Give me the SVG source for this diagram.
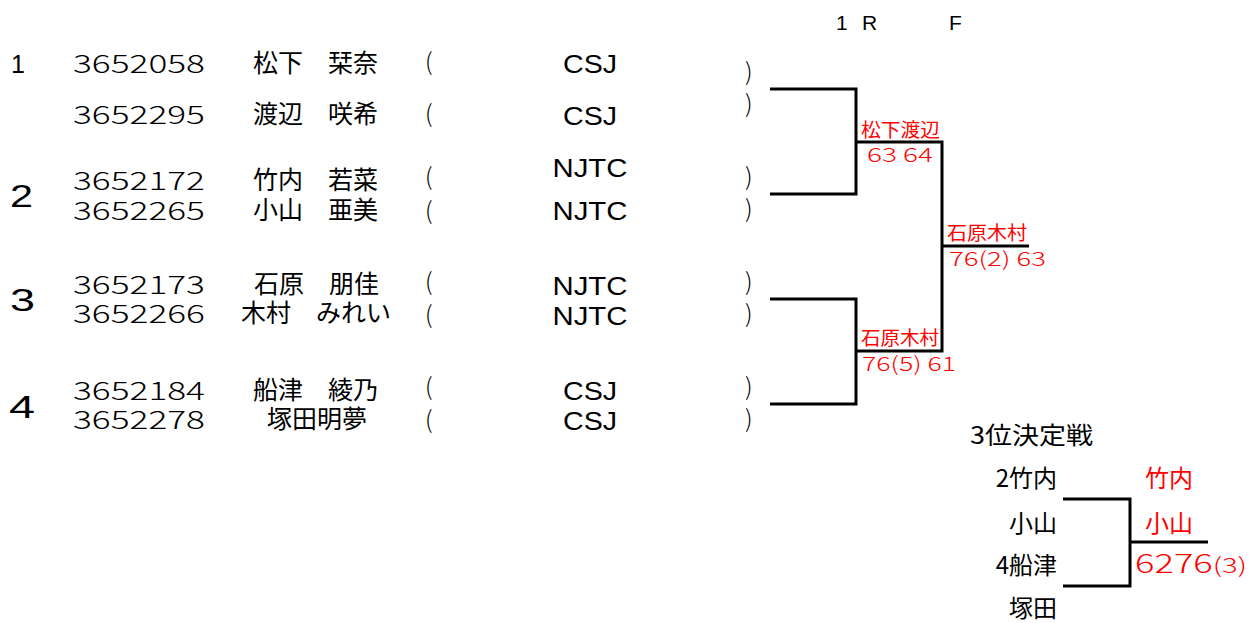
<svg xmlns="http://www.w3.org/2000/svg" width="1251" height="623" viewBox="0 0 1251 623">
<style>
text{font-family:"Noto Sans CJK JP","Liberation Sans",sans-serif;fill:#000}
.num{font-size:25px;font-weight:300}
.seed{font-family:"Liberation Sans","Noto Sans CJK JP",sans-serif}
.s1{font-size:25px}
.big{font-size:32px}
.nm{font-size:25px}
.par{font-size:24px;font-weight:300}
.club{font-size:26px;font-family:"Liberation Sans","Noto Sans CJK JP",sans-serif}
.red{fill:#ff0000}
.rn{font-size:19px}
.rs{font-size:20px;font-weight:300}
.hd{font-size:21px;font-family:"Liberation Sans","Noto Sans CJK JP",sans-serif}
.tp{font-size:24px}
line,polyline{stroke:#000;stroke-width:3;fill:none}
</style>
<rect width="1251" height="623" fill="#fff"/>
<g id="header">
<text class="hd" x="836" y="30">1</text>
<text class="hd" x="862" y="30">R</text>
<text class="hd" x="949" y="30">F</text>
</g>
<g id="seeds">
<text class="seed s1" x="11" y="73">1</text>
<text class="seed big" x="10" y="207" textLength="23" lengthAdjust="spacingAndGlyphs">2</text>
<text class="seed big" x="10" y="311" textLength="25" lengthAdjust="spacingAndGlyphs">3</text>
<text class="seed big" x="9" y="418" textLength="26" lengthAdjust="spacingAndGlyphs">4</text>
</g>
<g id="player-1a">
<text class="num" x="73" y="73" textLength="132" lengthAdjust="spacingAndGlyphs">3652058</text>
<text class="nm" x="253" y="72">松下　栞奈</text>
<text class="par" x="425" y="70">(</text>
<text class="club" x="590" y="73" text-anchor="middle" textLength="54" lengthAdjust="spacingAndGlyphs">CSJ</text>
<text class="par" x="745" y="80">)</text>
</g>
<g id="player-1b">
<text class="num" x="73" y="124" textLength="132" lengthAdjust="spacingAndGlyphs">3652295</text>
<text class="nm" x="253" y="123">渡辺　咲希</text>
<text class="par" x="425" y="122">(</text>
<text class="club" x="590" y="125" text-anchor="middle" textLength="54" lengthAdjust="spacingAndGlyphs">CSJ</text>
<text class="par" x="745" y="112">)</text>
</g>
<g id="player-2a">
<text class="num" x="73" y="190" textLength="132" lengthAdjust="spacingAndGlyphs">3652172</text>
<text class="nm" x="253" y="189">竹内　若菜</text>
<text class="par" x="425" y="185">(</text>
<text class="club" x="590" y="177" text-anchor="middle" textLength="75" lengthAdjust="spacingAndGlyphs">NJTC</text>
<text class="par" x="745" y="185">)</text>
</g>
<g id="player-2b">
<text class="num" x="73" y="220" textLength="132" lengthAdjust="spacingAndGlyphs">3652265</text>
<text class="nm" x="253" y="219">小山　亜美</text>
<text class="par" x="425" y="219">(</text>
<text class="club" x="590" y="220" text-anchor="middle" textLength="75" lengthAdjust="spacingAndGlyphs">NJTC</text>
<text class="par" x="745" y="217">)</text>
</g>
<g id="player-3a">
<text class="num" x="73" y="294" textLength="132" lengthAdjust="spacingAndGlyphs">3652173</text>
<text class="nm" x="254" y="293">石原　朋佳</text>
<text class="par" x="425" y="290">(</text>
<text class="club" x="590" y="295" text-anchor="middle" textLength="75" lengthAdjust="spacingAndGlyphs">NJTC</text>
<text class="par" x="745" y="290">)</text>
</g>
<g id="player-3b">
<text class="num" x="73" y="323" textLength="132" lengthAdjust="spacingAndGlyphs">3652266</text>
<text class="nm" x="241" y="322">木村　みれい</text>
<text class="par" x="425" y="323">(</text>
<text class="club" x="590" y="325" text-anchor="middle" textLength="75" lengthAdjust="spacingAndGlyphs">NJTC</text>
<text class="par" x="745" y="322">)</text>
</g>
<g id="player-4a">
<text class="num" x="73" y="400" textLength="132" lengthAdjust="spacingAndGlyphs">3652184</text>
<text class="nm" x="253" y="399">船津　綾乃</text>
<text class="par" x="425" y="395">(</text>
<text class="club" x="590" y="400" text-anchor="middle" textLength="54" lengthAdjust="spacingAndGlyphs">CSJ</text>
<text class="par" x="745" y="395">)</text>
</g>
<g id="player-4b">
<text class="num" x="73" y="429" textLength="132" lengthAdjust="spacingAndGlyphs">3652278</text>
<text class="nm" x="267" y="428">塚田明夢</text>
<text class="par" x="425" y="428">(</text>
<text class="club" x="590" y="430" text-anchor="middle" textLength="54" lengthAdjust="spacingAndGlyphs">CSJ</text>
<text class="par" x="745" y="427">)</text>
</g>
<g id="connectors">
<polyline points="770,89 856,89 856,194 770,194"/>
<polyline points="770,299 856,299 856,404 770,404"/>
<polyline points="856,142 942,142 942,351 856,351"/>
<line x1="942" y1="246" x2="1029" y2="246"/>
<polyline points="1063,499 1130,499 1130,586 1063,586"/>
<line x1="1130" y1="542" x2="1208" y2="542"/>
</g>
<g id="result-sf1">
<text class="red rn" x="861" y="137" textLength="79" lengthAdjust="spacingAndGlyphs">松下渡辺</text>
<text class="red rs" x="867" y="162" textLength="66" lengthAdjust="spacingAndGlyphs">63 64</text>
</g>
<g id="result-sf2">
<text class="red rn" x="861" y="345" textLength="78" lengthAdjust="spacingAndGlyphs">石原木村</text>
<text class="red rs" x="862" y="371" textLength="94" lengthAdjust="spacingAndGlyphs">76(5) 61</text>
</g>
<g id="result-final">
<text class="red rn" x="947" y="240" textLength="80" lengthAdjust="spacingAndGlyphs">石原木村</text>
<text class="red rs" x="949" y="266" textLength="97" lengthAdjust="spacingAndGlyphs">76(2) 63</text>
</g>
<g id="third-place">
<text class="tp" x="970" y="444" textLength="123" lengthAdjust="spacingAndGlyphs">3位決定戦</text>
<text class="tp" x="1057" y="487" text-anchor="end">2竹内</text>
<text class="tp" x="1057" y="532" text-anchor="end">小山</text>
<text class="tp" x="1057" y="574" text-anchor="end">4船津</text>
<text class="tp" x="1057" y="617" text-anchor="end">塚田</text>
<text class="tp red" x="1145" y="487">竹内</text>
<text class="tp red" x="1145" y="532">小山</text>
<text class="red" x="1135" y="573" style="font-size:26px;font-weight:300" textLength="112" lengthAdjust="spacingAndGlyphs">6276<tspan style="font-size:21px">(3)</tspan></text>
</g>
</svg>
